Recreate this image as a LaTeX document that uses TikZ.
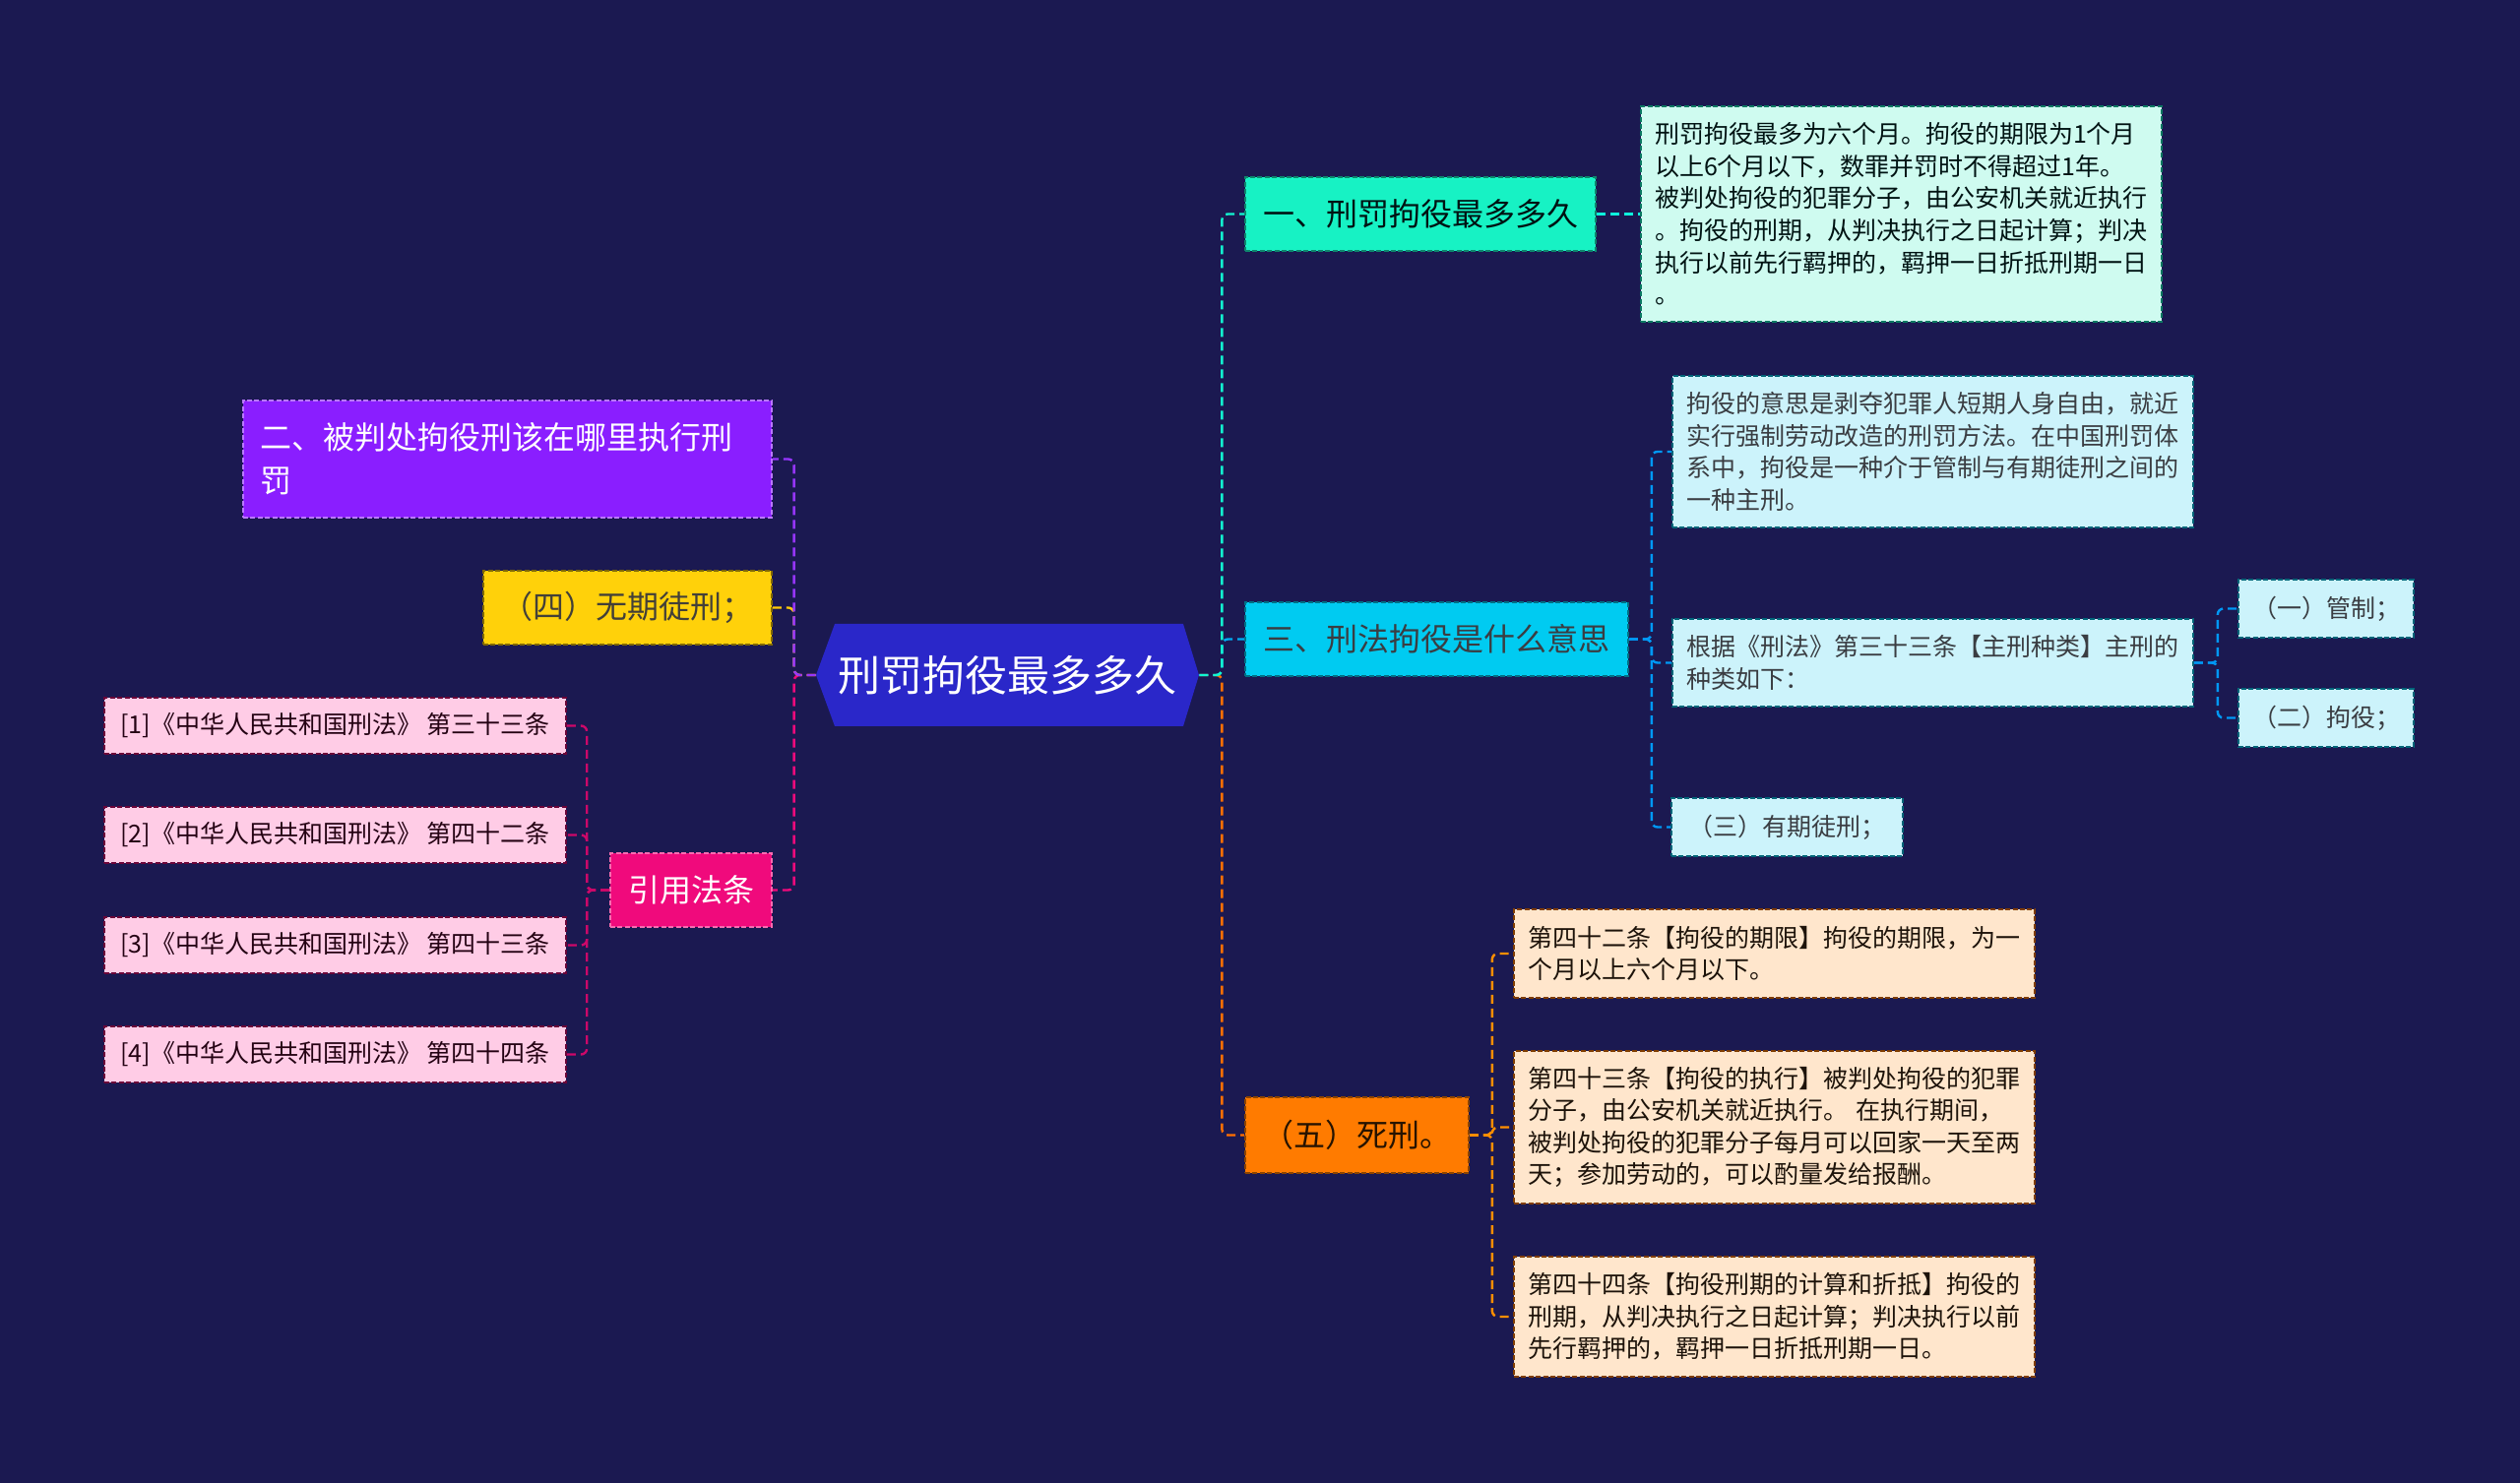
\documentclass[tikz,border=0pt]{standalone}
\usepackage{fontspec}
\setmainfont{Noto Sans CJK SC}
\usetikzlibrary{calc}
\definecolor{bg}{HTML}{1B1951}
\definecolor{rootc}{HTML}{2A27C9}
\definecolor{mintc}{HTML}{17F2C4}
\definecolor{mintl}{HTML}{CFFBF0}
\definecolor{cyanc}{HTML}{00CBF1}
\definecolor{cyanl}{HTML}{CCF3FB}
\definecolor{orac}{HTML}{FF7B00}
\definecolor{oral}{HTML}{FFE6CC}
\definecolor{purc}{HTML}{8A1EFF}
\definecolor{yelc}{HTML}{FFD10A}
\definecolor{magc}{HTML}{F00A7C}
\definecolor{pinkl}{HTML}{FFCCE6}
\tikzset{box/.style={rectangle,inner sep=0pt,line width=0.8pt,dash pattern=on 2.5pt off 1.2pt},
big/.style={box,font=\fontsize{16}{22}\selectfont,align=center},
small/.style={box,font=\fontsize{12.5}{16.3}\selectfont,align=center},
para/.style={box,inner xsep=7pt,text width=250.5pt,font=\fontsize{12.5}{16.3}\selectfont,align=left},
lnk/.style={line width=1.2pt,dash pattern=on 4.5pt off 2.5pt,rounded corners=3pt}}
\begin{document}
\begin{tikzpicture}[x=0.5pt,y=-0.5pt]
\fill[bg] (0,0) rectangle (2560,1507);
\useasboundingbox (0,0) rectangle (2560,1507);

% centre
\fill[rootc] (829,686)--(848,634)--(1202,634)--(1218,686)--(1202,738)--(848,738)--cycle;
\node[inner sep=0pt,minimum width=194.5pt,minimum height=52pt,text=white,font=\fontsize{21.5}{26}\selectfont] (root) at (1023.5,686) {刑罚拘役最多多久};

% right side
\node[big,fill=mintc,draw=mintc!55!black,text=black!85!teal,minimum width=178pt,minimum height=37.5pt] (n1) at (1443,217.5) {一、刑罚拘役最多多久};
\node[para,fill=mintl,draw=mintc!50!black,text=black!85!teal,minimum height=109.5pt] (d1) at (1931.5,217.5) {刑罚拘役最多为六个月。拘役的期限为1个月\\以上6个月以下，数罪并罚时不得超过1年。\\被判处拘役的犯罪分子，由公安机关就近执行\\。拘役的刑期，从判决执行之日起计算；判决\\执行以前先行羁押的，羁押一日折抵刑期一日\\。};

\node[big,fill=cyanc,draw=cyanc!55!black,text=black!85!cyan,minimum width=194.5pt,minimum height=37.5pt] (n3) at (1459.5,649.5) {三、刑法拘役是什么意思};
\node[para,fill=cyanl,draw=cyanc!50!black,text=black!85!cyan,minimum height=77pt] (d3a) at (1963.5,459) {拘役的意思是剥夺犯罪人短期人身自由，就近\\实行强制劳动改造的刑罚方法。在中国刑罚体\\系中，拘役是一种介于管制与有期徒刑之间的\\一种主刑。};
\node[para,fill=cyanl,draw=cyanc!50!black,text=black!85!cyan,minimum height=44.5pt] (d3b) at (1963.5,673.5) {根据《刑法》第三十三条【主刑种类】主刑的\\种类如下：};
\node[small,fill=cyanl,draw=cyanc!50!black,text=black!85!cyan,minimum width=117.5pt,minimum height=29.5pt] (d3c) at (1815.5,840.5) {（三）有期徒刑；};
\node[small,fill=cyanl,draw=cyanc!50!black,text=black!85!cyan,minimum width=89pt,minimum height=29.5pt] (d3b1) at (2363,618.5) {（一）管制；};
\node[small,fill=cyanl,draw=cyanc!50!black,text=black!85!cyan,minimum width=89pt,minimum height=29.5pt] (d3b2) at (2363,729.5) {（二）拘役；};

\node[big,fill=orac,draw=orac!55!black,text=black!85!orange,minimum width=113.5pt,minimum height=38.5pt] (n5) at (1378.5,1153.5) {（五）死刑。};
\node[para,fill=oral,draw=orac!50!black,text=black!85!brown,minimum height=45pt] (d5a) at (1802.5,969) {第四十二条【拘役的期限】拘役的期限，为一\\个月以上六个月以下。};
\node[para,fill=oral,draw=orac!50!black,text=black!85!brown,minimum height=77.5pt] (d5b) at (1802.5,1145.5) {第四十三条【拘役的执行】被判处拘役的犯罪\\分子，由公安机关就近执行。 在执行期间，\\被判处拘役的犯罪分子每月可以回家一天至两\\天；参加劳动的，可以酌量发给报酬。};
\node[para,fill=oral,draw=orac!50!black,text=black!85!brown,minimum height=61pt] (d5c) at (1802.5,1338) {第四十四条【拘役刑期的计算和折抵】拘役的\\刑期，从判决执行之日起计算；判决执行以前\\先行羁押的，羁押一日折抵刑期一日。};

% left side
\node[box,fill=purc,draw=purc!60!white,text=white,inner xsep=8.5pt,text width=251.5pt,minimum height=59.5pt,align=left,font=\fontsize{16}{22}\selectfont] (n2) at (515.5,466.5) {二、被判处拘役刑该在哪里执行刑\\罚};
\node[big,fill=yelc,draw=yelc!50!black,text=black!85!yellow,minimum width=146.5pt,minimum height=37.5pt] (n4) at (637.5,617.5) {（四）无期徒刑；};
\node[big,fill=magc,draw=magc!60!white,text=white,minimum width=82pt,minimum height=37.5pt] (nref) at (702,904.5) {引用法条};
\node[small,fill=pinkl,draw=magc!45!black,text=black!85!magc,minimum width=234.5pt,minimum height=28.5pt] (r1) at (340.5,737.5) {[1]《中华人民共和国刑法》 第三十三条};
\node[small,fill=pinkl,draw=magc!45!black,text=black!85!magc,minimum width=234.5pt,minimum height=28.5pt] (r2) at (340.5,848.5) {[2]《中华人民共和国刑法》 第四十二条};
\node[small,fill=pinkl,draw=magc!45!black,text=black!85!magc,minimum width=234.5pt,minimum height=28.5pt] (r3) at (340.5,960.5) {[3]《中华人民共和国刑法》 第四十三条};
\node[small,fill=pinkl,draw=magc!45!black,text=black!85!magc,minimum width=234.5pt,minimum height=28.5pt] (r4) at (340.5,1071.5) {[4]《中华人民共和国刑法》 第四十四条};

% links
\draw[lnk,orac!90!red] (root.east) -- ++(23,0) |- (n5.west);
\draw[lnk,cyanc!85!blue] (root.east) -- ++(23,0) |- (n3.west);
\draw[lnk,mintc!80!cyan] (root.east) -- ++(23,0) |- (n1.west);
\draw[lnk,mintc!60!cyan] (n1.east) -- (d1.west);
\foreach \c in {d3a,d3b,d3c}
  \draw[lnk,cyanc!75!blue] (n3.east) -- ++(23,0) |- (\c.west);
\foreach \c in {d3b1,d3b2}
  \draw[lnk,cyanc!75!blue] (d3b.east) -- ++(24,0) |- (\c.west);
\foreach \c in {d5a,d5b,d5c}
  \draw[lnk,orac!85!yellow] (n5.east) -- ++(23,0) |- (\c.west);
\draw[lnk,magc] (root.west) -- ++(-22,0) |- (nref.east);
\draw[lnk,yelc!90!orange] (root.west) -- ++(-22,0) |- (n4.east);
\draw[lnk,purc!90!white] (root.west) -- ++(-22,0) |- (n2.east);
\foreach \c in {r1,r2,r3,r4}
  \draw[lnk,magc!85!black] (nref.west) -- ++(-23,0) |- (\c.east);
\end{tikzpicture}
\end{document}
